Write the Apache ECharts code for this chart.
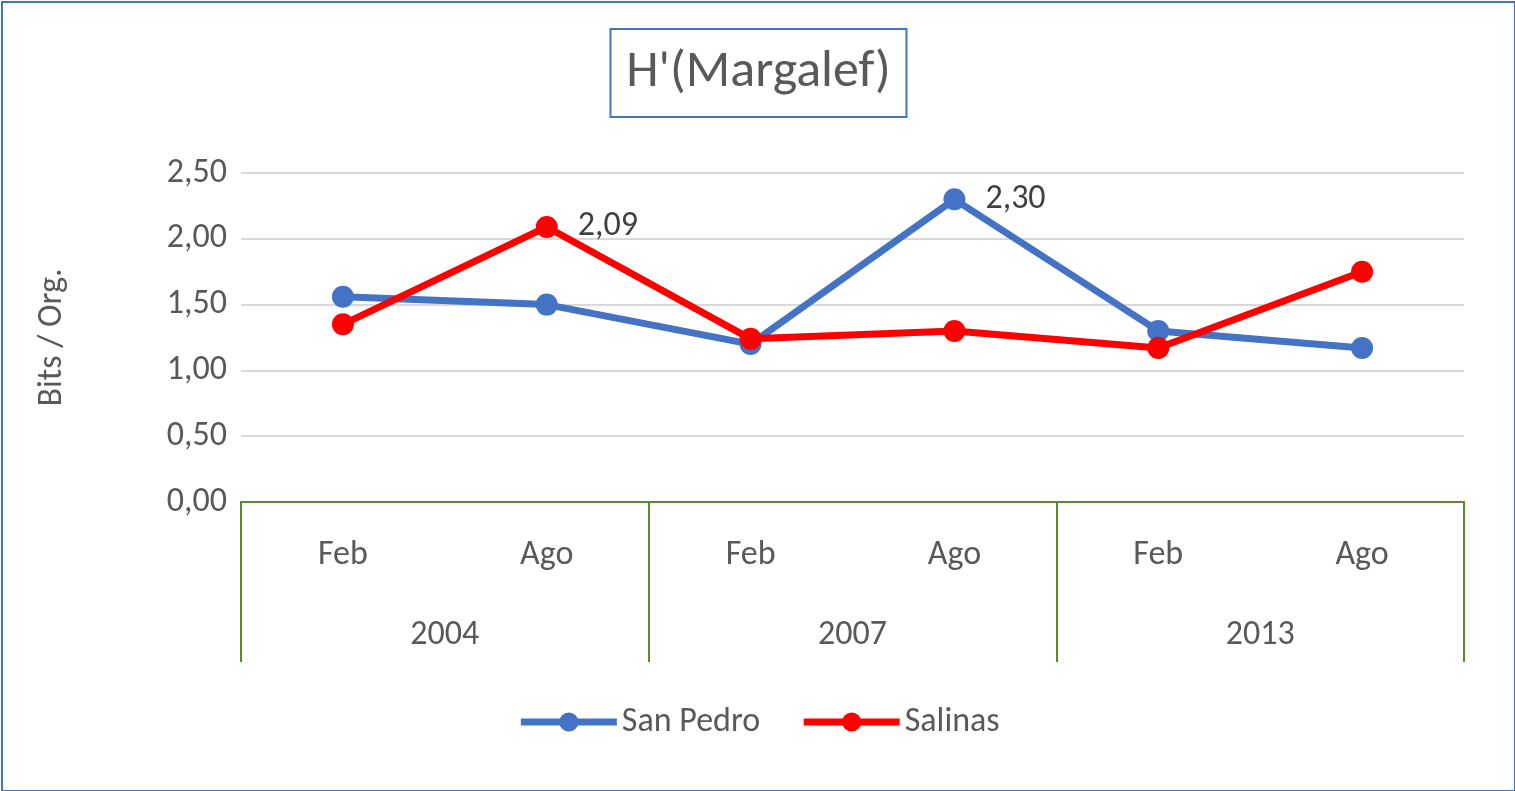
<!DOCTYPE html>
<html><head><meta charset="utf-8">
<script src="https://cdn.jsdelivr.net/npm/echarts@6/dist/echarts.min.js"></script>
<style>
html,body{margin:0;padding:0;background:#fff}
#main{position:absolute;left:1px;top:1px;width:1511px;height:787px;border:2px solid #4472c4}
</style></head>
<body><div id="main"></div>
<script>
var months=['Feb','Ago','Feb','Ago','Feb','Ago'];
var years=['2004','2007','2013'];
var sanPedro=[1.56,1.50,1.20,2.30,1.30,1.17];
var salinas=[1.35,2.09,1.24,1.30,1.17,1.75];
var yTicks=[0,0.5,1,1.5,2,2.5];

var chartDom=document.getElementById('main');
var myChart=echarts.init(chartDom);
var font='Calibri, Carlito, "Open Sans", sans-serif';
var fs=34;
function mark(arr,idx){
    return arr.map(function(v,i){
        if(i==idx) return {value:v,label:{show:true,position:'right',distance:20,formatter:v.toFixed(2).replace('.',','),fontSize:fs,color:'#404040',fontFamily:font}};
        return v;
    });
}
var option={
    title:{
        text:"H'(Margalef)",left:'center',top:26,
        padding:[18,16,18,16],borderColor:'#4472c4',borderWidth:2,
        textStyle:{fontSize:52,fontWeight:'normal',color:'#595959',fontFamily:font}
    },
    legend:{
        bottom:46,left:'center',itemWidth:96,itemHeight:24,itemGap:40,
        lineStyle:{width:7},
        textStyle:{fontSize:fs,color:'#595959',fontFamily:font},
        data:['San Pedro','Salinas']
    },
    grid:{left:238,right:50,top:170,bottom:288},
    xAxis:[{
        type:'category',data:months,boundaryGap:true,
        axisLine:{lineStyle:{color:'#5b8c2a',width:2}},
        axisTick:{show:false},
        axisLabel:{fontSize:fs,color:'#595959',margin:36,fontFamily:font}
    },{
        type:'category',data:years,position:'bottom',boundaryGap:true,
        axisLine:{lineStyle:{color:'#5b8c2a',width:2}},
        axisTick:{show:true,length:160,inside:false,lineStyle:{color:'#5b8c2a',width:2}},
        axisLabel:{fontSize:fs,color:'#595959',margin:116,fontFamily:font}
    }],
    yAxis:{
        type:'value',min:yTicks[0],max:yTicks[yTicks.length-1],interval:0.5,
        name:'Bits / Org.',nameLocation:'middle',nameGap:172,
        nameTextStyle:{fontSize:fs,color:'#595959',fontFamily:font},
        axisLabel:{fontSize:fs,color:'#595959',margin:14,fontFamily:font,
            formatter:function(v){return v.toFixed(2).replace('.',',');}},
        splitLine:{lineStyle:{color:'#d9d9d9',width:2}},
        axisLine:{show:false},axisTick:{show:false}
    },
    series:[{
        name:'San Pedro',type:'line',data:mark(sanPedro,3),
        symbol:'circle',symbolSize:22,
        lineStyle:{width:7,color:'#4472c4'},itemStyle:{color:'#4472c4'}
    },{
        name:'Salinas',type:'line',data:mark(salinas,1),
        symbol:'circle',symbolSize:22,
        lineStyle:{width:7,color:'#ff0000'},itemStyle:{color:'#ff0000'}
    }]
};
option && myChart.setOption(option);
</script></body></html>
